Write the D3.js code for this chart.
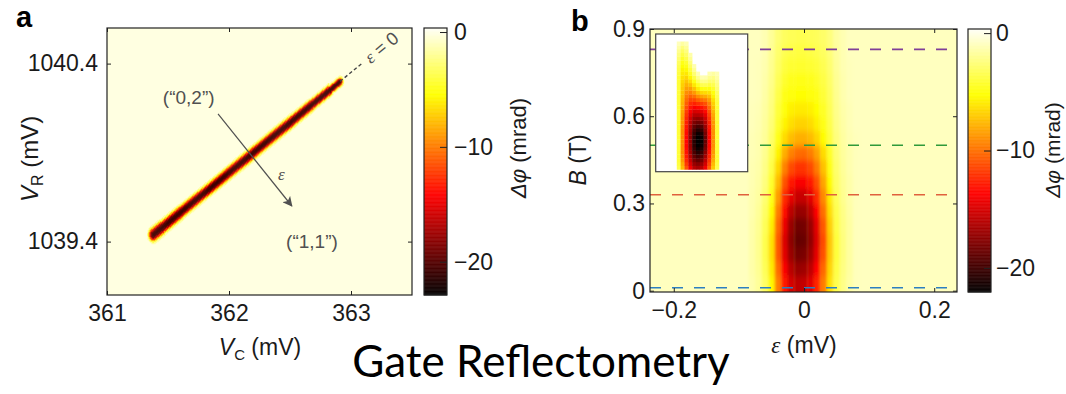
<!DOCTYPE html>
<html><head><meta charset="utf-8">
<script src="https://cdn.jsdelivr.net/npm/d3@7/dist/d3.min.js"></script>
<style>
body{margin:0;background:#fff;}
svg{display:block;font-family:"Liberation Sans",Arial,Helvetica,sans-serif;}
</style></head><body>
<svg id="fig" width="1066" height="394"></svg>
<script>
// ---------- axis ticks ----------
const vcTicks = [361, 362, 363];
const vrTicks = [1039.4, 1040.4];
const epsTicks = [-0.2, 0, 0.2];
const fieldTicks = [0, 0.3, 0.6, 0.9];
const phaseTicks = [0, -10, -20];

// ---------- panel a: charge stability map near the (0,2)-(1,1) line ----------
const bandVC = [361.38, 362.91];          // ends of the ε = 0 line, V_C (mV)
const bandVR = [1039.44, 1040.30];        // ends of the ε = 0 line, V_R (mV)
const bandOffset = [0, 0.006, 0.012, 0.018, 0.024, 0.030, 0.036, 0.042]; // |ε| off the line (mV)
const bandPhase = [-21, -20.5, -19.5, -16.5, -12.5, -7.5, -3.8, -1.4];   // Δφ (mrad)
const bandAlong = [0, 0.1, 0.2, 0.3, 0.4, 0.5, 0.6, 0.7, 0.8, 0.9, 1];
const bandWidthGain = [1.15, 1.08, 1.02, 1, 1, 1.02, 1, 1, 0.96, 0.88, 0.72];
const backgroundA = -0.15;

// ---------- panel b: Δφ versus detuning and magnetic field ----------
const epsCols = [-0.08, -0.07, -0.06, -0.05, -0.04, -0.03, -0.02, -0.01, 0, 0.01, 0.02, 0.03, 0.04, 0.05, 0.06, 0.07, 0.08];
const fieldRows = [0.025, 0.075, 0.125, 0.175, 0.225, 0.275, 0.325, 0.375, 0.425, 0.475, 0.525, 0.575, 0.625, 0.675, 0.725, 0.775, 0.825, 0.875];
const phaseGrid = [
  [-1.3,-1.8,-3.0,-5.4,-9.5,-13.0,-15.0,-15.8,-15.6,-14.6,-12.6,-9.6,-6.2,-3.5,-2.2,-1.5,-1.0],
  [-1.4,-1.9,-3.3,-5.9,-10.2,-13.8,-16.0,-17.0,-16.8,-15.8,-13.6,-10.3,-6.6,-3.7,-2.3,-1.6,-1.0],
  [-1.4,-2.0,-3.5,-6.2,-10.8,-14.6,-17.0,-18.2,-18.0,-16.8,-14.5,-11.0,-7.0,-3.9,-2.4,-1.6,-1.0],
  [-1.4,-2.0,-3.5,-6.2,-10.8,-14.8,-17.4,-18.8,-18.6,-17.3,-14.8,-11.2,-7.1,-3.9,-2.4,-1.6,-1.0],
  [-1.4,-1.9,-3.3,-5.8,-10.3,-14.3,-17.0,-18.4,-18.2,-17.0,-14.5,-10.8,-6.8,-3.7,-2.3,-1.6,-1.0],
  [-1.3,-1.8,-3.0,-5.3,-9.5,-13.4,-15.9,-17.1,-17.0,-15.9,-13.6,-10.0,-6.3,-3.5,-2.2,-1.5,-1.0],
  [-1.3,-1.6,-2.7,-4.7,-8.5,-12.2,-14.4,-15.5,-15.5,-14.5,-12.3,-9.1,-5.8,-3.2,-2.0,-1.4,-1.0],
  [-1.2,-1.5,-2.4,-4.2,-7.5,-10.9,-12.9,-13.8,-13.8,-13.0,-11.0,-8.2,-5.3,-3.0,-1.9,-1.4,-1.0],
  [-1.2,-1.4,-2.2,-3.7,-6.5,-9.4,-11.2,-12.0,-12.0,-11.3,-9.6,-7.3,-4.8,-2.8,-1.8,-1.3,-1.0],
  [-1.1,-1.3,-2.0,-3.3,-5.6,-7.9,-9.4,-10.1,-10.2,-9.6,-8.3,-6.4,-4.3,-2.6,-1.7,-1.3,-1.0],
  [-1.1,-1.3,-1.8,-2.9,-4.8,-6.4,-7.4,-7.9,-7.9,-7.5,-6.6,-5.3,-3.8,-2.4,-1.6,-1.2,-1.0],
  [-1.0,-1.2,-1.7,-2.6,-4.2,-5.6,-6.3,-6.7,-6.7,-6.4,-5.7,-4.7,-3.5,-2.2,-1.5,-1.1,-0.9],
  [-1.0,-1.1,-1.6,-2.4,-3.9,-5.1,-5.7,-5.9,-5.9,-5.7,-5.2,-4.4,-3.3,-2.1,-1.4,-1.1,-0.9],
  [-0.9,-1.0,-1.5,-2.3,-3.6,-4.7,-5.1,-5.2,-5.2,-5.1,-4.7,-4.0,-3.1,-2.0,-1.3,-1.0,-0.9],
  [-0.9,-1.0,-1.4,-2.1,-3.3,-4.2,-4.6,-4.7,-4.7,-4.6,-4.3,-3.7,-2.9,-1.9,-1.3,-1.0,-0.9],
  [-0.9,-1.0,-1.3,-2.0,-3.0,-3.8,-4.1,-4.2,-4.2,-4.1,-3.9,-3.4,-2.7,-1.8,-1.2,-1.0,-0.9],
  [-0.9,-0.9,-1.2,-1.9,-2.8,-3.4,-3.7,-3.8,-3.8,-3.7,-3.5,-3.1,-2.5,-1.7,-1.2,-0.9,-0.9],
  [-0.9,-0.9,-1.2,-1.8,-2.6,-3.1,-3.3,-3.4,-3.4,-3.3,-3.2,-2.9,-2.4,-1.6,-1.2,-0.9,-0.9]
];
const backgroundB = -0.9;

// field values of the four horizontal cuts and their colours
const cutFields = [0.01, 0.33, 0.5, 0.83];
const cutColors = ["#2c7fc0", "#e0613d", "#2f9a3a", "#7f3f98"];

// ---------- inset: modelled Δφ(ε, B) ----------
const insetCols = [-0.06, -0.05, -0.04, -0.03, -0.02, -0.01, 0, 0.01, 0.02, 0.03, 0.04];
const insetRows = [0.0125, 0.0375, 0.0625, 0.0875, 0.1125, 0.1375, 0.1625, 0.1875, 0.2125, 0.2375,
  0.2625, 0.2875, 0.3125, 0.3375, 0.3625, 0.3875, 0.4125, 0.4375, 0.4625, 0.4875, 0.5125, 0.5375,
  0.5625, 0.5875, 0.6125, 0.6375, 0.6625, 0.6875, 0.7125, 0.7375, 0.7625, 0.7875, 0.8125, 0.8375];
const insetGrid = [
  [-3.5,-7.5,-11,-14,-16,-16.5,-16,-14,-10.5,-7,-3.5],
  [-3.8,-8,-11.8,-14.8,-17,-17.6,-17,-15,-11.3,-7.5,-3.7],
  [-4,-8.5,-12.4,-15.5,-18,-18.8,-18.2,-15.8,-12,-8,-4],
  [-4,-8.7,-12.8,-16.1,-18.8,-19.8,-19.2,-16.6,-12.5,-8.3,-4],
  [-4,-9,-13.1,-16.6,-19.6,-20.8,-20.2,-17.4,-13,-8.6,-4],
  [-4,-9,-13.3,-16.9,-20.2,-21.6,-21,-18,-13.3,-8.8,-4],
  [-4,-9,-13.5,-17.1,-20.6,-22.2,-21.6,-18.4,-13.5,-9,-4],
  [-4,-9,-13.5,-17.2,-20.8,-22.5,-21.9,-18.6,-13.6,-9,-4],
  [-4,-9,-13.5,-17.1,-20.6,-22.3,-21.7,-18.5,-13.5,-9,-4],
  [-4,-9,-13.4,-17,-20.2,-21.7,-21.2,-18.1,-13.4,-9,-4],
  [-4,-9,-13.2,-16.7,-19.6,-20.8,-20.3,-17.5,-13.2,-8.9,-4],
  [-4,-8.9,-13,-16.3,-18.8,-19.7,-19.3,-16.9,-12.9,-8.8,-4],
  [-4,-8.7,-12.7,-15.8,-17.9,-18.5,-18.1,-16.1,-12.5,-8.6,-4],
  [-4,-8.6,-12.4,-15.2,-17,-17.3,-16.9,-15.3,-12,-8.4,-4],
  [-4,-8.4,-12,-14.5,-16,-16.1,-15.7,-14.4,-11.5,-8.1,-4],
  [-4,-8.2,-11.6,-13.8,-15,-14.9,-14.5,-13.4,-10.9,-7.7,-4],
  [-4,-8,-11.1,-13,-13.8,-13.5,-13.1,-12.3,-10.2,-7.3,-4],
  [-4,-7.8,-10.6,-12.2,-12.6,-12.1,-11.6,-11,-9.4,-6.8,-3.8],
  [-4,-7.6,-10.1,-11.3,-11.3,-10.6,-10,-9.6,-8.5,-6.3,-3.6],
  [-4,-7.4,-9.6,-10.4,-10,-9,-8.3,-8,-7.4,-5.6,-3.3],
  [-4,-7.2,-9,-9.4,-8.6,-7.4,-6.6,-6.4,-6.2,-5,-3],
  [-4,-7,-8.4,-8.4,-7.3,-5.9,-5,-4.9,-5,-4.3,-2.7],
  [-4,-6.8,-7.8,-7.4,-6,-4.5,-3.5,-3.4,-3.8,-3.5,-2.3],
  [-4,-6.5,-7.2,-6.4,-4.8,-3.2,-2.2,-2.2,-2.8,-2.8,-1.9],
  [-4,-6.2,-6.6,-5.5,-3.7,-2.1,-1.2,-1.3,-2,-2.2,-1.5],
  [-3.8,-5.9,-6,-4.6,-2.7,-1.2,null,null,-1.3,-1.6,-1.2],
  [-3.6,-5.6,-5.4,-3.8,-1.9,null,null,null,null,null,null],
  [-3.4,-5.2,-4.8,-3.1,-1.3,null,null,null,null,null,null],
  [-3.1,-4.8,-4.2,-2.5,null,null,null,null,null,null,null],
  [-2.8,-4.3,-3.6,-1.9,null,null,null,null,null,null,null],
  [-2.4,-3.7,-3,-1.4,null,null,null,null,null,null,null],
  [-2,-3.1,-2.4,null,null,null,null,null,null,null,null],
  [-1.5,-2.4,-1.8,null,null,null,null,null,null,null,null],
  [-1,-1.6,-1.2,null,null,null,null,null,null,null,null]
];

// ---------- helpers ----------
const svg = d3.select("#fig");
const fmtMinus = d => d === 0 ? "0" : d3.format(".1f")(d);

// reversed "hot" colour map
function heatScale(min, max) {
  const span = max - min;
  return d3.scaleLinear()
    .domain([max, max - 0.25 * span, max - 0.625 * span, min])
    .range(["#fffff6", "#ffff00", "#ff0000", "#000000"])
    .clamp(true);
}

function frameAxes(g, x, y, xt, yt, xfmt, yfmt, xpad, ypad) {
  const [x0, x1] = x.range(), [y0, y1] = y.range();
  const tk = -4;
  g.append("g").attr("transform", `translate(0,${y0})`)
    .call(d3.axisBottom(x).tickValues(xt).tickFormat(xfmt).tickSize(tk).tickPadding(xpad));
  g.append("g").attr("transform", `translate(0,${y1})`)
    .call(d3.axisTop(x).tickValues(xt).tickFormat("").tickSize(tk));
  g.append("g").attr("transform", `translate(${x0},0)`)
    .call(d3.axisLeft(y).tickValues(yt).tickFormat(yfmt).tickSize(tk).tickPadding(ypad));
  g.append("g").attr("transform", `translate(${x1},0)`)
    .call(d3.axisRight(y).tickValues(yt).tickFormat("").tickSize(tk));
  g.selectAll(".domain").remove();
  g.selectAll(".tick line").attr("stroke", "#222");
  g.selectAll(".tick text").attr("font-size", 23).attr("fill", "#1a1a1a");
  g.append("rect").attr("x", x0).attr("y", y1).attr("width", x1 - x0).attr("height", y0 - y1)
    .attr("fill", "none").attr("stroke", "#222").attr("stroke-width", 1.2);
}

function colorbar(g, scale, cmap, x0, width, pad) {
  const [lo, hi] = scale.domain();
  const step = 0.05;
  g.append("g").selectAll("rect").data(d3.range(lo, hi, step)).join("rect")
    .attr("x", x0).attr("width", width)
    .attr("y", d => scale(d + step)).attr("height", d => scale(d) - scale(d + step) + 0.4)
    .attr("fill", d => cmap(d + step / 2));
  const ax = g.append("g").attr("transform", `translate(${x0 + width},0)`)
    .call(d3.axisRight(scale).tickValues(phaseTicks).tickFormat(d => d === 0 ? "0" : d3.format("d")(d))
      .tickSize(-7).tickPadding(pad));
  ax.select(".domain").remove();
  ax.selectAll(".tick line").attr("stroke", "#222");
  ax.selectAll(".tick text").attr("font-size", 23).attr("fill", "#1a1a1a");
  const [r0, r1] = scale.range();
  g.append("rect").attr("x", x0).attr("y", r1).attr("width", width).attr("height", r0 - r1)
    .attr("fill", "none").attr("stroke", "#222").attr("stroke-width", 1.2);
}

function phaseLabel(cx, cy, size) {
  const t = svg.append("text").attr("transform", `translate(${cx},${cy}) rotate(-90)`)
    .attr("text-anchor", "middle").attr("dy", "0.35em").attr("font-size", size).attr("fill", "#1a1a1a");
  t.append("tspan").attr("font-style", "italic").text("Δφ");
  t.append("tspan").text(" (mrad)");
}

// ================= panel a =================
const xA = d3.scaleLinear().domain([361, 363.5]).range([107, 412]);
const yA = d3.scaleLinear().domain([1039.1, 1040.6]).range([295, 28]);
const cA = d3.scaleLinear().domain([-22.9, 0.35]).range([295, 28]);
const heatA = heatScale(-22.9, 0.35);

svg.append("defs").html(`
  <clipPath id="clipA"><rect x="107" y="28" width="305" height="267"/></clipPath>
  <clipPath id="clipB"><rect x="650" y="29" width="307" height="263"/></clipPath>
  <filter id="soft" filterUnits="userSpaceOnUse" x="620" y="0" width="370" height="330">
    <feGaussianBlur stdDeviation="1.6 3.2"/>
  </filter>
  <marker id="arrowHead" viewBox="0 0 10 10" refX="9" refY="5" markerWidth="10" markerHeight="10"
      markerUnits="userSpaceOnUse" orient="auto">
    <path d="M0,0 L10,5 L0,10 L2.5,5 Z" fill="#505050"/>
  </marker>`);

const gA = svg.append("g");
const heatLayerA = gA.append("g").attr("clip-path", "url(#clipA)");
heatLayerA.append("rect").attr("x", xA(361)).attr("y", yA(1040.6))
  .attr("width", xA(363.5) - xA(361)).attr("height", yA(1039.1) - yA(1040.6))
  .attr("fill", heatA(backgroundA));

// cells of the map around the transition line
const dVC = bandVC[1] - bandVC[0], dVR = bandVR[1] - bandVR[0];
const bandLen = Math.hypot(dVC, dVR);
const ux = dVC / bandLen, uy = dVR / bandLen, nx = uy, ny = -ux;
const stepVC = 0.008, stepVR = 0.0056;
const cellsA = [];
for (const vc of d3.range(361.28, 363.0, stepVC)) {
  for (const vr of d3.range(1039.34, 1040.40, stepVR)) {
    const px = vc - bandVC[0], py = vr - bandVR[0];
    const s = (px * ux + py * uy) / bandLen;
    const e = px * nx + py * ny;
    let dist = Math.abs(e);
    if (s < 0) dist = Math.hypot(e, s * bandLen);
    else if (s > 1) dist = Math.hypot(e, (s - 1) * bandLen);
    const gi = Math.round(Math.min(Math.max(s, 0), 1) * (bandAlong.length - 1));
    dist /= bandWidthGain[gi];
    const bin = Math.round(dist / (bandOffset[1] - bandOffset[0]));
    if (bin < bandPhase.length) cellsA.push({vc, vr, v: bandPhase[bin]});
  }
}
heatLayerA.append("g").selectAll("rect").data(cellsA).join("rect")
  .attr("x", d => xA(d.vc - stepVC / 2)).attr("y", d => yA(d.vr + stepVR / 2))
  .attr("width", xA(361 + stepVC) - xA(361) + 0.4)
  .attr("height", yA(1039.1) - yA(1039.1 + stepVR) + 0.4)
  .attr("fill", d => heatA(d.v));

// ε = 0 extension, detuning arrow and charge-state labels
const extVC = 363.10;
const extVR = bandVR[1] + (extVC - bandVC[1]) * dVR / dVC;
gA.append("line").attr("x1", xA(bandVC[1])).attr("y1", yA(bandVR[1]))
  .attr("x2", xA(extVC)).attr("y2", yA(extVR))
  .attr("stroke", "#444").attr("stroke-width", 1.4).attr("stroke-dasharray", "3.5,2.5");
const bandAngle = Math.atan2(yA(bandVR[1]) - yA(bandVR[0]), xA(bandVC[1]) - xA(bandVC[0])) * 180 / Math.PI;
const lblVC = 363.13, lblVR = bandVR[1] + (lblVC - bandVC[1]) * dVR / dVC;
const eqLbl = gA.append("text")
  .attr("transform", `translate(${xA(lblVC)},${yA(lblVR)}) rotate(${bandAngle})`)
  .attr("dy", "0.35em").attr("font-size", 18).attr("fill", "#505050");
eqLbl.append("tspan").attr("font-family", "Liberation Serif").attr("font-style", "italic").text("ε");
eqLbl.append("tspan").text(" = 0");

const arrowVC = [361.91, 362.515], arrowVR = [1040.117, 1039.60];
gA.append("line").attr("x1", xA(arrowVC[0])).attr("y1", yA(arrowVR[0]))
  .attr("x2", xA(arrowVC[1])).attr("y2", yA(arrowVR[1]))
  .attr("stroke", "#505050").attr("stroke-width", 1.2).attr("marker-end", "url(#arrowHead)");

const notes = [
  {vc: 361.67, vr: 1040.21, t: "(“0,2”)"},
  {vc: 362.68, vr: 1039.40, t: "(“1,1”)"}
];
gA.selectAll("text.note").data(notes).join("text").attr("class", "note")
  .attr("x", d => xA(d.vc)).attr("y", d => yA(d.vr)).attr("dy", "0.35em")
  .attr("text-anchor", "middle").attr("font-size", 19).attr("fill", "#505050").text(d => d.t);
gA.append("text").attr("x", xA(362.43)).attr("y", yA(1039.78)).attr("dy", "0.35em")
  .attr("text-anchor", "middle").attr("font-size", 17).attr("fill", "#505050")
  .attr("font-family", "Liberation Serif").attr("font-style", "italic").text("ε");

frameAxes(gA, xA, yA, vcTicks, vrTicks, d3.format("d"), d3.format(".1f"), 10, 9);

// axis titles
const vrTitle = svg.append("text").attr("transform", "translate(30,159) rotate(-90)")
  .attr("text-anchor", "middle").attr("dy", "0.35em").attr("font-size", 24).attr("fill", "#1a1a1a");
vrTitle.append("tspan").attr("font-style", "italic").text("V");
vrTitle.append("tspan").attr("font-size", 16).attr("dy", 5).text("R");
vrTitle.append("tspan").attr("dy", -5).text(" (mV)");
const vcTitle = svg.append("text").attr("x", 260).attr("y", 355)
  .attr("text-anchor", "middle").attr("font-size", 23).attr("fill", "#1a1a1a");
vcTitle.append("tspan").attr("font-style", "italic").text("V");
vcTitle.append("tspan").attr("font-size", 15).attr("dy", 5).text("C");
vcTitle.append("tspan").attr("dy", -5).text(" (mV)");

colorbar(svg.append("g"), cA, heatA, 424, 23, 7);
phaseLabel(518, 148, 22);

svg.append("text").attr("x", 16).attr("y", 27).attr("font-size", 29).attr("font-weight", "bold").text("a");

// ================= panel b =================
const xB = d3.scaleLinear().domain([-0.2365, 0.2350]).range([650, 957]);
const yB = d3.scaleLinear().domain([-0.0045, 0.9]).range([292, 29]);
const cB = d3.scaleLinear().domain([-22.05, 0.35]).range([292, 29]);
const heatB = heatScale(-22.05, 0.35);

const gB = svg.append("g");
const heatLayerB = gB.append("g").attr("clip-path", "url(#clipB)").append("g").attr("filter", "url(#soft)");
heatLayerB.append("rect").attr("x", xB.range()[0] - 15).attr("y", yB.range()[1] - 15)
  .attr("width", xB.range()[1] - xB.range()[0] + 30).attr("height", yB.range()[0] - yB.range()[1] + 30)
  .attr("fill", heatB(backgroundB));
const halfEps = (epsCols[1] - epsCols[0]) / 2, halfB = (fieldRows[1] - fieldRows[0]) / 2;
const lastRow = fieldRows.length - 1;
const rowTop = i => i === lastRow ? yB.range()[1] - 15 : yB(fieldRows[i] + halfB);
const rowBottom = i => i === 0 ? yB.range()[0] + 15 : yB(fieldRows[i] - halfB);
const cellsB = [];
fieldRows.forEach((b, i) => epsCols.forEach((e, j) => cellsB.push({e, b, i, v: phaseGrid[i][j]})));
heatLayerB.append("g").selectAll("rect").data(cellsB).join("rect")
  .attr("x", d => xB(d.e - halfEps)).attr("width", xB(halfEps * 2) - xB(0) + 0.3)
  .attr("y", d => rowTop(d.i))
  .attr("height", d => rowBottom(d.i) - rowTop(d.i) + 0.3)
  .attr("fill", d => heatB(d.v));

// horizontal field cuts
gB.append("g").selectAll("line").data(cutFields).join("line")
  .attr("x1", xB.range()[0]).attr("x2", xB.range()[1])
  .attr("y1", d => yB(d)).attr("y2", d => yB(d))
  .attr("stroke", (d, i) => cutColors[i]).attr("stroke-width", 1.6).attr("stroke-dasharray", "11,11");

// inset
const insetX = d3.scaleLinear().domain([-0.12, 0.12]).range([655.7, 747.7]);
const insetY = d3.scaleLinear().domain([-0.015, 0.9]).range([171.7, 34]);
const gIn = gB.append("g");
gIn.append("rect").attr("x", 655.7).attr("y", 34).attr("width", 92).attr("height", 137.7).attr("fill", "#ffffff");
const iHalfE = (insetCols[1] - insetCols[0]) / 2, iHalfB = (insetRows[1] - insetRows[0]) / 2;
const cellsIn = [];
insetRows.forEach((b, i) => insetCols.forEach((e, j) => {
  if (insetGrid[i][j] !== null) cellsIn.push({e, b, v: insetGrid[i][j]});
}));
gIn.append("g").selectAll("rect").data(cellsIn).join("rect")
  .attr("x", d => insetX(d.e - iHalfE)).attr("width", insetX(iHalfE * 2) - insetX(0) + 0.3)
  .attr("y", d => insetY(d.b + iHalfB)).attr("height", insetY(0) - insetY(iHalfB * 2) + 0.3)
  .attr("fill", d => heatB(d.v));
gIn.append("rect").attr("x", 655.7).attr("y", 34).attr("width", 92).attr("height", 137.7)
  .attr("fill", "none").attr("stroke", "#444").attr("stroke-width", 1.2);

frameAxes(gB, xB, yB, epsTicks, fieldTicks, fmtMinus, fmtMinus, 10, 5);

const bTitle = svg.append("text").attr("transform", "translate(578,160) rotate(-90)")
  .attr("text-anchor", "middle").attr("dy", "0.35em").attr("font-size", 23).attr("fill", "#1a1a1a");
bTitle.append("tspan").attr("font-style", "italic").text("B");
bTitle.append("tspan").text(" (T)");
const eTitle = svg.append("text").attr("x", 804).attr("y", 353)
  .attr("text-anchor", "middle").attr("font-size", 23).attr("fill", "#1a1a1a");
eTitle.append("tspan").attr("font-family", "Liberation Serif").attr("font-style", "italic").text("ε");
eTitle.append("tspan").text(" (mV)");

colorbar(svg.append("g"), cB, heatB, 968, 23, 5);
phaseLabel(1053, 150, 21);

svg.append("text").attr("x", 571).attr("y", 31).attr("font-size", 29).attr("font-weight", "bold").text("b");

// ================= caption =================
svg.append("text").attr("x", 541).attr("y", 377).attr("text-anchor", "middle")
  .attr("font-family", "Lato, 'Open Sans', sans-serif").attr("font-size", 44).attr("fill", "#000")
  .text("Gate Reflectometry");
</script>
</body></html>
